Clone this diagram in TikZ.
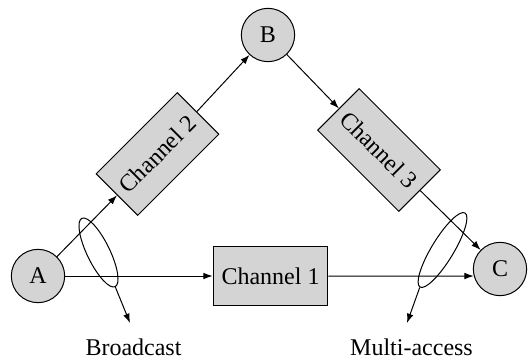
\documentclass[tikz,border=0pt]{standalone}
\usepackage{fontspec}
\setmainfont{Liberation Serif}
\usetikzlibrary{shapes.geometric,arrows.meta}
\definecolor{boxgray}{RGB}{212,212,212}
\begin{document}
\begin{tikzpicture}[x=0.75pt,y=-0.75pt,
  every node/.style={font=\fontsize{18}{21}\selectfont},
  station/.style={circle,draw,fill=boxgray,line width=0.75pt,minimum size=40pt,inner sep=0pt},
  chan/.style={rectangle,draw,fill=boxgray,line width=0.75pt,minimum width=86pt,minimum height=44pt,inner sep=0pt},
  grp/.style={ellipse,draw,line width=0.75pt,minimum width=60pt,minimum height=16.5pt,inner sep=0pt},
  link/.style={line width=0.75pt,-{Latex[length=7pt,width=5pt]}},
  lbl/.style={anchor=base,inner sep=0pt}]
\useasboundingbox (0,0) rectangle (528,361);
\node[station] (A) at (38,276) {A};
\node[station] (B) at (268,35) {B};
\node[station] (C) at (500,269) {C};
\node[chan] (ch1) at (270.5,276) {Channel 1};
\node[chan,rotate=45] (ch2) at (157.5,154) {Channel 2};
\node[chan,rotate=-45] (ch3) at (379,150) {Channel 3};
\draw[link] (A) -- (ch2);
\draw[link] (ch2) -- (B);
\draw[link] (B) -- (ch3);
\draw[link] (ch3) -- (C);
\draw[link] (A) -- (ch1);
\draw[link] (ch1.east) -- (C.195);
\node[grp,rotate=-64,minimum width=57pt,minimum height=17pt] (bc) at (98.5,252.5) {};
\node[grp,rotate=58.7,minimum width=65pt] (ma) at (442.5,250) {};
\coordinate (bcend) at (130,323);
\coordinate (maend) at (407,323);
\draw[link] (bc.east) -- (bcend);
\draw[link] (ma.west) -- (maend);
\node[lbl] (lb) at (133.5,355) {Broadcast};
\node[lbl] (lm) at (411.5,355) {Multi-access};
\end{tikzpicture}
\end{document}
